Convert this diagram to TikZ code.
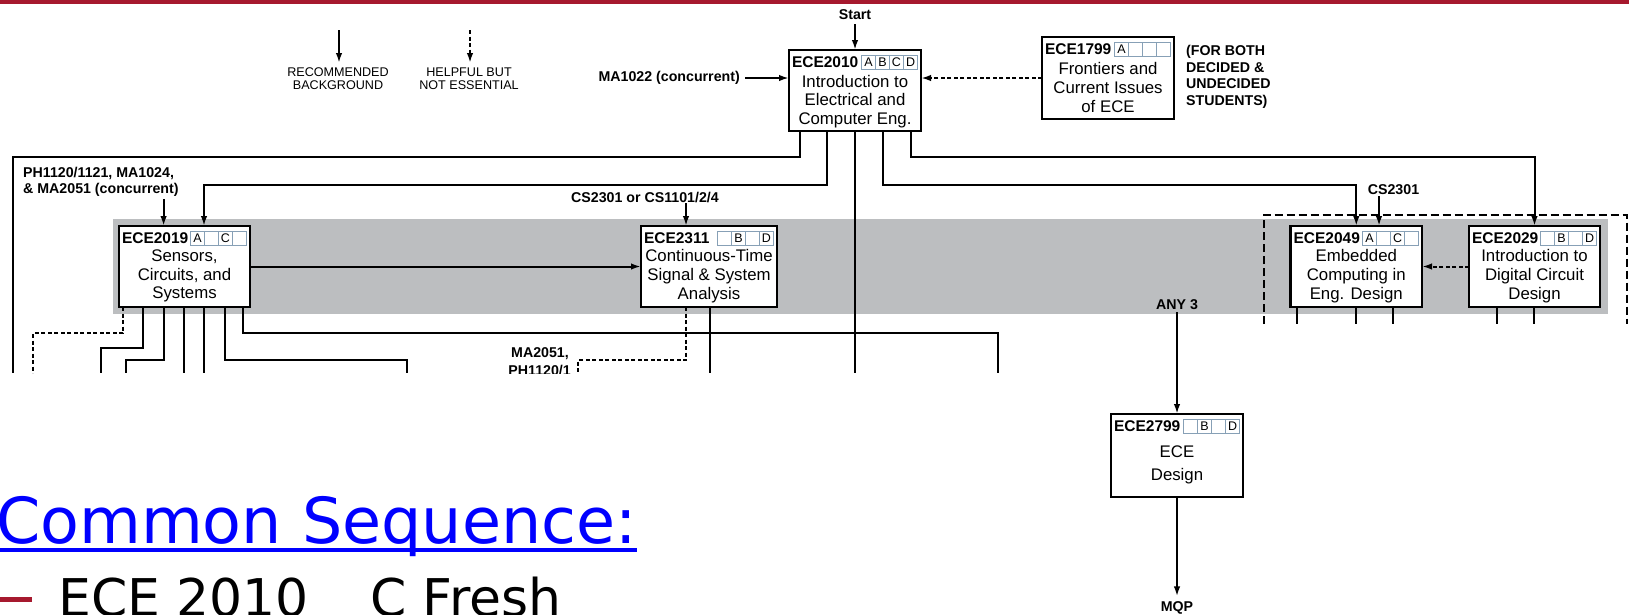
\documentclass[tikz,border=0pt]{standalone}
\usepackage{fontspec}
\setmainfont{Liberation Sans}
\newfontfamily\dejavu{DejaVu Sans}
\usetikzlibrary{arrows.meta,calc}
\definecolor{crim}{RGB}{166,25,46}
\definecolor{band}{RGB}{188,190,192}
\definecolor{cellc}{RGB}{135,160,182}
\definecolor{slideblue}{RGB}{0,0,255}
\newcommand{\myfs}[2]{\fontsize{#1pt}{#2pt}\selectfont}
% course box: name, left, top, right, bottom, number
\newcommand{\cbx}[6]{%
  \node[cbox, anchor=north west, minimum width={#4-#2}, minimum height={#5-#3}] (#1) at (#2,#3) {};
  \node[hdr, anchor=west] (#1-n) at ([xshift=3pt,yshift=-12pt]#1.north west) {#6};
}
% grade cells: box name, four letters
\newcommand{\cells}[5]{%
  \node[cell, anchor=north east] (#1-c4) at ([xshift=-3.5pt,yshift=-5pt]#1.north east) {#5};
  \node[cell, anchor=north east] (#1-c3) at (#1-c4.north west) {#4};
  \node[cell, anchor=north east] (#1-c2) at (#1-c3.north west) {#3};
  \node[cell, anchor=north east] (#1-c1) at (#1-c2.north west) {#2};
}
\begin{document}
\begin{tikzpicture}[x=1pt,y=-1pt,
  cbox/.style={draw=black, line width=2.6pt, fill=white, rectangle, inner sep=0pt, outer sep=0pt},
  hdr/.style={font=\bfseries\myfs{15.5}{15.5}, inner sep=0pt, outer sep=0pt},
  cell/.style={draw=cellc, line width=0.7pt, minimum width=14pt, minimum height=14pt, inner sep=0pt, outer sep=0pt, font=\myfs{12.5}{12.5}},
  body/.style={font=\myfs{16.8}{18.7}, align=center, inner sep=0pt},
  bodyb/.style={font=\myfs{16.8}{23}, align=center, inner sep=0pt},
  lab/.style={font=\bfseries\myfs{14.2}{16.5}, inner sep=0pt},
  leg/.style={font=\myfs{12.6}{13}, align=center, inner sep=0pt},
  conn/.style={line width=2pt},
  thinconn/.style={line width=1.3pt},
  dconn/.style={line width=2pt, dash pattern=on 4pt off 2.5pt},
  gbox/.style={line width=2pt, dash pattern=on 8pt off 4pt},
  arr/.style={-{Latex[length=10pt,width=6.5pt]}},
]
\useasboundingbox (0,0) rectangle (1629,614);
\fill[white] (0,0) rectangle (1629,614);
\fill[crim] (0,0) rectangle (1629,4.3);
\fill[band] (112.5,219) rectangle (1608,314);

\coordinate (cutL) at (0,373);
\coordinate (cutR) at (0,324);

% legend
\coordinate (lgA1) at (339,30); \coordinate (lgA2) at (339,63);
\draw[conn,arr] (lgA1) -- (lgA2);
\node[leg] (lgT1) at (338,78.5) {RECOMMENDED\\BACKGROUND};
\coordinate (lgB1) at (470,30); \coordinate (lgB2) at (470,63);
\draw[dconn,arr] (lgB1) -- (lgB2);
\node[leg] (lgT2) at (469,78.5) {HELPFUL BUT\\NOT ESSENTIAL};

% boxes
\cbx{e2010}{789}{50}{921}{131}{ECE2010}
\cells{e2010}{A}{B}{C}{D}
\node[body] (e2010-t) at (855,101.5) {Introduction to\\Electrical and\\Computer Eng.};
\cbx{e1799}{1042}{37}{1174}{119}{ECE1799}
\cells{e1799}{A}{}{}{}
\node[body] (e1799-t) at (1108,87.5) {Frontiers and\\Current Issues\\of ECE};
\cbx{e2019}{119}{226}{250}{307}{ECE2019}
\cells{e2019}{A}{}{C}{}
\node[body] (e2019-t) at (184.5,276) {Sensors,\\Circuits, and\\Systems};
\cbx{e2311}{641}{226}{777}{307}{ECE2311}
\cells{e2311}{}{B}{}{D}
\node[body] (e2311-t) at (709,276) {Continuous-Time\\Signal \& System\\Analysis};
\cbx{e2049}{1290.6}{226}{1422}{307}{ECE2049}
\cells{e2049}{A}{}{C}{}
\node[body] (e2049-t) at (1356.3,276) {Embedded\\Computing in\\Eng. Design};
\cbx{e2029}{1469}{226}{1600}{307}{ECE2029}
\cells{e2029}{}{B}{}{D}
\node[body] (e2029-t) at (1534.5,276) {Introduction to\\Digital Circuit\\Design};
\cbx{e2799}{1111}{414}{1243}{497}{ECE2799}
\cells{e2799}{}{B}{}{D}
\node[bodyb] (e2799-t) at (1177,464.5) {ECE\\Design};

% labels
\node[lab] (start) at (855,15) {Start};
\node[lab, anchor=east] (ma1022) at (740,78) {MA1022 (concurrent)};
\node[lab, anchor=west, align=left] (forboth) at (1186,77) {(FOR BOTH\\DECIDED \&\\UNDECIDED\\STUDENTS)};
\node[lab, anchor=west, align=left] (phlab) at (23,182) {PH1120/1121, MA1024,\\\& MA2051 (concurrent)};
\node[lab] (cslab) at (645,197) {CS2301 or CS1101/2/4};
\node[lab] (cs2301) at (1393.5,190) {CS2301};
\node[lab] (any3) at (1177,305) {ANY 3};
\node[lab] (mqp) at (1177,608) {MQP};
\begin{scope}
  \clip (400,330) rectangle (640,373);
  \node[lab, anchor=base east] (ma2051a) at (569,357) {MA2051,};
  \node[lab, anchor=base east] (ma2051b) at (571,375) {PH1120/1};
\end{scope}

% top connectors
\draw[conn,arr] ([yshift=-4pt]start.south) -- (e2010.north);
\draw[conn,arr] ([xshift=5pt]ma1022.east) -- (ma1022.east -| e2010.west);
\draw[dconn,arr] (e1799.west |- ma1022.east) -- (e2010.east |- ma1022.east);

% lines leaving ECE2010
\draw[conn] ([xshift=11pt]e2010.south west) |- (12.5,157) -- (12.5,373);
\draw[conn,arr] ([xshift=38pt]e2010.south west) |- (204,185) -- ([xshift=85pt]e2019.north west);
\draw[thinconn] (e2010.south) -- (e2010.south |- cutL);
\draw[conn,arr] ([xshift=94pt]e2010.south west) |- (1356.3,185) -- (e2049.north);
\draw[conn,arr] ([xshift=122pt]e2010.south west) |- (1534.5,157) -- (e2029.north);

% prerequisites into second row
\draw[conn,arr] ($(e2019.north west |- phlab.south)+(44.6,2)$) -- ([xshift=44.6pt]e2019.north west);
\draw[conn,arr] ($(cslab.south)+(41,1)$) -- ($(cslab.south |- e2311.north)+(41,0)$);
\draw[conn,arr] ($(cs2301.south)+(-14.5,1)$) -- ($(cs2301.south |- e2049.north)+(-14.5,0)$);

% row connectors
\draw[conn,arr] (e2019.east) -- (e2311.west);
\draw[dconn,arr] (e2029.west) -- (e2049.east);

% lines below ECE2019
\draw[dconn] ([xshift=4pt]e2019.south west) |- (33,333) -- (33,373);
\draw[conn] ([xshift=24pt]e2019.south west) |- (101,348) -- (101,373);
\draw[conn] ([xshift=44.6pt]e2019.south west) |- (126,360) -- (126,373);
\draw[conn] ([xshift=65pt]e2019.south west) -- ($(e2019.south west |- cutL)+(65,0)$);
\draw[conn] ([xshift=85pt]e2019.south west) -- ($(e2019.south west |- cutL)+(85,0)$);
\draw[conn] ([xshift=106pt]e2019.south west) |- (407,360) -- (407,373);
\draw[conn] ([xshift=124pt]e2019.south west) |- (998,333) -- (998,373);

% lines below ECE2311
\draw[dconn] ([xshift=45pt]e2311.south west) |- (578,360) -- (578,373);
\draw[conn] ([xshift=68.6pt]e2311.south west) -- ($(e2311.south west |- cutL)+(68.6,0)$);

% lines below ECE2049 / ECE2029
\draw[conn] ([xshift=6.4pt]e2049.south west) -- ($(e2049.south west |- cutR)+(6.4,0)$);
\draw[conn] ([xshift=65.4pt]e2049.south west) -- ($(e2049.south west |- cutR)+(65.4,0)$);
\draw[conn] ([xshift=102.4pt]e2049.south west) -- ($(e2049.south west |- cutR)+(102.4,0)$);
\draw[conn] ([xshift=28pt]e2029.south west) -- ($(e2029.south west |- cutR)+(28,0)$);
\draw[conn] ([xshift=65pt]e2029.south west) -- ($(e2029.south west |- cutR)+(65,0)$);
\draw[gbox] (1263.6,324) -- (1263.6,215) -- (1627,215) -- (1627,324);

% design sequence
\draw[conn,arr] ([yshift=-2pt]any3.south) -- (e2799.north);
\draw[conn,arr] (e2799.south) -- ([yshift=5pt]mqp.north);

% slide text
\node[font=\dejavu\myfs{63.5}{63.5}, text=slideblue, anchor=base east, inner sep=0pt] (cseq) at (637,543) {Common Sequence:};
\draw[slideblue, line width=3.4pt] ([yshift=-7pt]cseq.base west) -- ([yshift=-7pt]cseq.base east);
\fill[crim] (0,597) rectangle (32,601.5);
\node[font=\dejavu\myfs{52}{52}, anchor=base west, inner sep=0pt] (ece) at (58,616) {ECE 2010};
\node[font=\dejavu\myfs{52}{52}, anchor=base west, inner sep=0pt] (cfresh) at (370,616) {C Fresh};
\end{tikzpicture}
\end{document}
